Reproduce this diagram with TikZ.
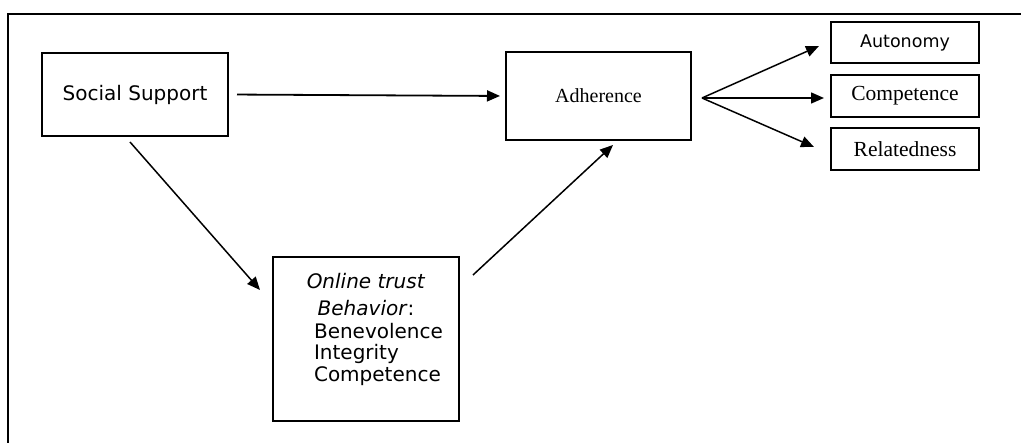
\documentclass[tikz,border=0pt]{standalone}
\usepackage{fontspec}
\setmainfont{Liberation Serif}
\newfontfamily\vsans{DejaVu Sans}
\usetikzlibrary{positioning,arrows.meta}
\begin{document}
\begin{tikzpicture}[x=1pt, y=-1pt,
  box/.style={draw, line width=1.6pt, inner sep=0pt, outer sep=0pt, align=center},
  sbox/.style={box, minimum width=148pt, minimum height=42pt, font=\fontsize{21.5}{24}\selectfont},
  arr/.style={-{Triangle[length=13pt,width=11pt]}, line width=1.5pt}]
  \useasboundingbox (0,0) rectangle (1021,443);
  \draw[line width=1.6pt] (8,443) -- (8,14) -- (1021,14);
  \node[box, minimum width=186pt, minimum height=83pt, font=\vsans\fontsize{20}{24}\selectfont] (ss) at (135,94.5) {Social Support};
  \node[box, minimum width=185pt, minimum height=88pt, font=\fontsize{20}{24}\selectfont] (adh) at (598.5,96) {Adherence};
  \node[box, minimum width=186pt, minimum height=164pt] (trust) at (366,339) {};
  \node[below=16pt of trust.north, inner sep=0pt, align=center, font=\vsans\fontsize{20}{21}\selectfont] (trusttxt)
    {\textit{Online trust}\\[6pt]\textit{Behavior}:\\[2pt]\hspace*{25pt}\begin{tabular}[t]{@{}l@{}}Benevolence\\Integrity\\Competence\end{tabular}};
  \node[sbox, minimum height=41pt, font=\vsans\fontsize{17.5}{20}\selectfont] (auto) at (905,42.5) {Autonomy};
  \node[sbox, below=12pt of auto] (comp) {Competence};
  \node[sbox, below=11pt of comp] (rel) {Relatedness};
  \coordinate[xshift=11pt, yshift=-2pt] (fan) at (adh.east);
  \draw[arr, line width=1.8pt, shorten <=9pt, shorten >=6pt] (ss.east) -- (adh.west);
  \draw[arr] ([xshift=-5pt,yshift=-6pt]ss.south) -- ([xshift=-13pt,yshift=-33pt]trust.north west);
  \draw[arr] ([xshift=14pt,yshift=-18pt]trust.north east) -- ([xshift=14.5pt,yshift=-5pt]adh.south);
  \draw[arr] (fan) -- ([xshift=-12pt,yshift=-3.5pt]auto.west);
  \draw[arr] (fan) -- ([xshift=-7pt,yshift=-2pt]comp.west);
  \draw[arr] (fan) -- ([xshift=-17pt,yshift=2pt]rel.west);
\end{tikzpicture}
\end{document}
